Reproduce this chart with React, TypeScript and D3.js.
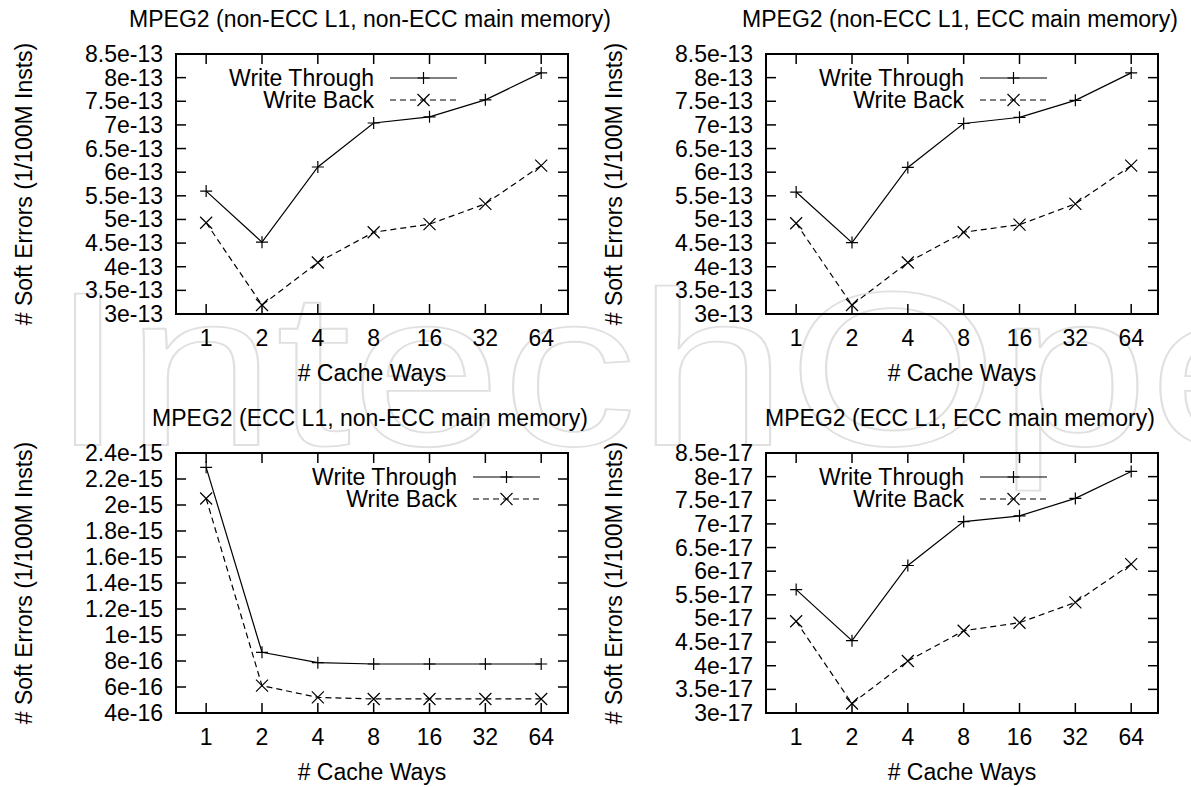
import React from "react";
import * as d3 from "d3";

// ---------------- data ----------------
const cacheWays = ["1", "2", "4", "8", "16", "32", "64"];

const titles = [
  "MPEG2 (non-ECC L1, non-ECC main memory)",
  "MPEG2 (non-ECC L1, ECC main memory)",
  "MPEG2 (ECC L1, non-ECC main memory)",
  "MPEG2 (ECC L1, ECC main memory)",
];

const seriesNames = ["Write Through", "Write Back"];

const wtA = [5.6e-13, 4.52e-13, 6.11e-13, 7.04e-13, 7.17e-13, 7.53e-13, 8.1e-13];
const wbA = [4.93e-13, 3.19e-13, 4.09e-13, 4.73e-13, 4.9e-13, 5.33e-13, 6.14e-13];

const wtB = [5.58e-13, 4.51e-13, 6.1e-13, 7.03e-13, 7.16e-13, 7.52e-13, 8.1e-13];
const wbB = [4.92e-13, 3.19e-13, 4.09e-13, 4.73e-13, 4.89e-13, 5.33e-13, 6.14e-13];

const wtC = [2.29e-15, 8.67e-16, 7.87e-16, 7.77e-16, 7.77e-16, 7.77e-16, 7.77e-16];
const wbC = [2.05e-15, 6.1e-16, 5.2e-16, 5.08e-16, 5.08e-16, 5.08e-16, 5.08e-16];

const wtD = [5.61e-17, 4.53e-17, 6.12e-17, 7.05e-17, 7.17e-17, 7.54e-17, 8.11e-17];
const wbD = [4.94e-17, 3.2e-17, 4.1e-17, 4.74e-17, 4.91e-17, 5.34e-17, 6.15e-17];

const ticks13 = [8.5e-13, 8e-13, 7.5e-13, 7e-13, 6.5e-13, 6e-13, 5.5e-13, 5e-13, 4.5e-13, 4e-13, 3.5e-13, 3e-13];
const labels13 = ["8.5e-13", "8e-13", "7.5e-13", "7e-13", "6.5e-13", "6e-13", "5.5e-13", "5e-13", "4.5e-13", "4e-13", "3.5e-13", "3e-13"];
const ticks15 = [2.4e-15, 2.2e-15, 2e-15, 1.8e-15, 1.6e-15, 1.4e-15, 1.2e-15, 1e-15, 8e-16, 6e-16, 4e-16];
const labels15 = ["2.4e-15", "2.2e-15", "2e-15", "1.8e-15", "1.6e-15", "1.4e-15", "1.2e-15", "1e-15", "8e-16", "6e-16", "4e-16"];
const ticks17 = [8.5e-17, 8e-17, 7.5e-17, 7e-17, 6.5e-17, 6e-17, 5.5e-17, 5e-17, 4.5e-17, 4e-17, 3.5e-17, 3e-17];
const labels17 = ["8.5e-17", "8e-17", "7.5e-17", "7e-17", "6.5e-17", "6e-17", "5.5e-17", "5e-17", "4.5e-17", "4e-17", "3.5e-17", "3e-17"];

const yLabel = "# Soft Errors (1/100M Insts)";
const xLabel = "# Cache Ways";
const watermark = "IntechOpen";

// ---------------- layout ----------------
const W = 1191;
const H = 787;
const FONT = "'Liberation Sans', Arial, Helvetica, sans-serif";
const FS = 23;
const PW = 392;
const PH = 260;

type Panel = {
  title: string;
  left: number;
  top: number;
  wt: number[];
  wb: number[];
  ticks: number[];
  labels: string[];
  keyRight: number;
  clipRight: number;
};

const panels: Panel[] = [
  { title: titles[0], left: 176, top: 54, wt: wtA, wb: wbA, ticks: ticks13, labels: labels13, keyRight: 198, clipRight: 611 },
  { title: titles[1], left: 766, top: 54, wt: wtB, wb: wbB, ticks: ticks13, labels: labels13, keyRight: 198, clipRight: W },
  { title: titles[2], left: 176, top: 453, wt: wtC, wb: wbC, ticks: ticks15, labels: labels15, keyRight: 281, clipRight: 611 },
  { title: titles[3], left: 766, top: 453, wt: wtD, wb: wbD, ticks: ticks17, labels: labels17, keyRight: 198, clipRight: W },
];

function Plus({ x, y }: { x: number; y: number }) {
  const s = 6;
  return (
    <path d={`M${x - s},${y}H${x + s}M${x},${y - s}V${y + s}`} stroke="#000" strokeWidth={1.2} fill="none" />
  );
}
function Cross({ x, y }: { x: number; y: number }) {
  const s = 6;
  return (
    <path d={`M${x - s},${y - s}L${x + s},${y + s}M${x - s},${y + s}L${x + s},${y - s}`} stroke="#000" strokeWidth={1.2} fill="none" />
  );
}

function PanelView({ p, idx }: { p: Panel; idx: number }) {
  const x = d3.scaleLinear().domain([-0.54, cacheWays.length - 1 + 0.48]).range([p.left, p.left + PW]);
  const yMin = p.ticks[p.ticks.length - 1];
  const yMax = p.ticks[0];
  const y = d3.scaleLinear().domain([yMin, yMax]).range([p.top + PH, p.top]);
  const line = d3
    .line<number>()
    .x((_, i) => x(i))
    .y((d) => y(d));
  const right = p.left + PW;
  const bottom = p.top + PH;
  const tl = 10;
  const clipId = `clip${idx}`;
  const keyTextX = p.left + p.keyRight;
  const keyLineX0 = keyTextX + 16;
  const keyLineX1 = keyTextX + 83;
  const keyY0 = p.top + 24;
  const keyY1 = p.top + 46;
  return (
    <g>
      <defs>
        <clipPath id={clipId}>
          <rect x={0} y={0} width={p.clipRight} height={H} />
        </clipPath>
      </defs>
      <text
        x={p.left + PW / 2 - 2}
        y={p.top - 35}
        textAnchor="middle"
        dominantBaseline="central"
        fontSize={FS}
        clipPath={`url(#${clipId})`}
      >
        {p.title}
      </text>
      <text
        transform={`translate(${p.left - 152},${p.top + PH / 2}) rotate(-90)`}
        textAnchor="middle"
        dominantBaseline="central"
        fontSize={FS}
      >
        {yLabel}
      </text>
      {p.ticks.map((t, i) => (
        <g key={"yt" + i}>
          <line x1={p.left} x2={p.left + tl} y1={y(t)} y2={y(t)} stroke="#000" strokeWidth={1.5} />
          <line x1={right} x2={right - tl} y1={y(t)} y2={y(t)} stroke="#000" strokeWidth={1.5} />
          <text x={p.left - 13} y={y(t)} textAnchor="end" dominantBaseline="central" fontSize={FS}>
            {p.labels[i]}
          </text>
        </g>
      ))}
      {cacheWays.map((c, i) => (
        <g key={"xt" + i}>
          <line x1={x(i)} x2={x(i)} y1={bottom} y2={bottom - tl} stroke="#000" strokeWidth={1.5} />
          <line x1={x(i)} x2={x(i)} y1={p.top} y2={p.top + tl} stroke="#000" strokeWidth={1.5} />
          <text x={x(i)} y={bottom + 24} textAnchor="middle" dominantBaseline="central" fontSize={FS}>
            {c}
          </text>
        </g>
      ))}
      <text x={p.left + PW / 2} y={bottom + 59} textAnchor="middle" dominantBaseline="central" fontSize={FS}>
        {xLabel}
      </text>
      <text x={keyTextX} y={keyY0} textAnchor="end" dominantBaseline="central" fontSize={FS}>
        {seriesNames[0]}
      </text>
      <line x1={keyLineX0} x2={keyLineX1} y1={keyY0} y2={keyY0} stroke="#000" strokeWidth={1.2} />
      <Plus x={(keyLineX0 + keyLineX1) / 2} y={keyY0} />
      <text x={keyTextX} y={keyY1} textAnchor="end" dominantBaseline="central" fontSize={FS}>
        {seriesNames[1]}
      </text>
      <line x1={keyLineX0} x2={keyLineX1} y1={keyY1} y2={keyY1} stroke="#000" strokeWidth={1.2} strokeDasharray="6,4" />
      <Cross x={(keyLineX0 + keyLineX1) / 2} y={keyY1} />
      <path d={line(p.wt) || ""} fill="none" stroke="#000" strokeWidth={1.2} />
      <path d={line(p.wb) || ""} fill="none" stroke="#000" strokeWidth={1.2} strokeDasharray="6,4" />
      {p.wt.map((v, i) => (
        <Plus key={"p" + i} x={x(i)} y={y(v)} />
      ))}
      {p.wb.map((v, i) => (
        <Cross key={"c" + i} x={x(i)} y={y(v)} />
      ))}
      <rect x={p.left} y={p.top} width={PW} height={PH} fill="none" stroke="#000" strokeWidth={2} />
    </g>
  );
}

export default function App() {
  return (
    <div style={{ position: "absolute", left: 0, top: 0 }}>
      <svg width={W} height={H} style={{ display: "block", background: "#fff" }} fontFamily={FONT}>
        <rect x={0} y={0} width={W} height={H} fill="#fff" />
        <text
          x={50}
          y={445}
          fontSize={220}
          textLength={1400}
          lengthAdjust="spacingAndGlyphs"
          fill="none"
          stroke="#e0e0e0"
          strokeWidth={1.8}
        >
          {watermark}
        </text>
        {panels.map((p, i) => (
          <PanelView key={i} p={p} idx={i} />
        ))}
      </svg>
    </div>
  );
}
